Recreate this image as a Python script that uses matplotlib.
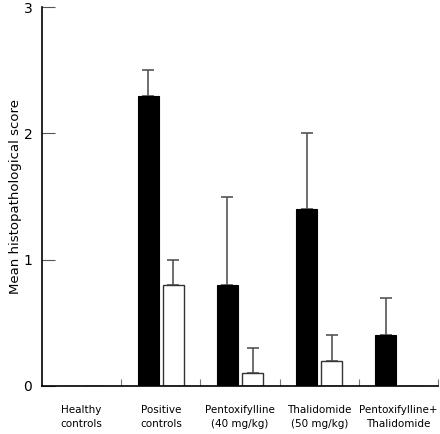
import numpy as np
import matplotlib
matplotlib.use('Agg')
import matplotlib.pyplot as plt

#Groups and values
groups = ['Healthy\ncontrols', 'Positive\ncontrols', 'Pentoxifylline\n(40 mg/kg)',
          'Thalidomide\n(50 mg/kg)', 'Pentoxifylline+\nThalidomide']
black_mean = [0.0, 2.3, 0.8, 1.4, 0.4]
black_err = [0.0, 0.2, 0.7, 0.6, 0.3]
white_mean = [0.0, 0.8, 0.1, 0.2, 0.0]
white_err = [0.0, 0.2, 0.2, 0.2, 0.0]

fig = plt.figure(figsize=(4.4, 4.34), dpi=100)
ax = fig.add_axes([0.0955, 0.1106, 0.9, 0.873])

x = np.arange(len(groups)) + 0.5
w = 0.265
off = 0.16

#Bars
ax.bar(x - off, black_mean, w, color='black', edgecolor='black', linewidth=0.8, zorder=2)
ax.bar(x + off, white_mean, w, color='white', edgecolor='#333333', linewidth=1.0, zorder=2)

#Error bars (upper only, skip empty groups)
for xs, m, e in [(x - off, black_mean, black_err), (x + off, white_mean, white_err)]:
    m = np.array(m)
    e = np.array(e)
    k = e > 0
    ax.errorbar(xs[k], m[k], yerr=[np.zeros(k.sum()), e[k]], fmt='none',
                ecolor='#555555', elinewidth=1.2, capsize=4, capthick=1.2, zorder=1)

#Axes styling
ax.set_xlim(0, 5)
ax.set_ylim(0, 3)
ax.spines['top'].set_visible(False)
ax.spines['right'].set_visible(False)
ax.spines['left'].set_linewidth(1.2)
ax.spines['bottom'].set_linewidth(1.2)

ax.set_yticks([0, 1, 2, 3])
ax.tick_params(axis='y', direction='in', length=9, width=0.8, color='#555555',
               labelsize=10, pad=7)

ax.set_xticks(x)
ax.set_xticklabels(groups, fontsize=7.5, linespacing=1.5)
ax.tick_params(axis='x', which='major', length=0, pad=14)
ax.set_xticks([1, 2, 3, 4, 5], minor=True)
ax.tick_params(axis='x', which='minor', direction='in', length=5, width=0.8, color='#777777')

ax.set_ylabel('Mean histopathological score', fontsize=9.5, labelpad=1)

plt.savefig('out.png', dpi=100)
